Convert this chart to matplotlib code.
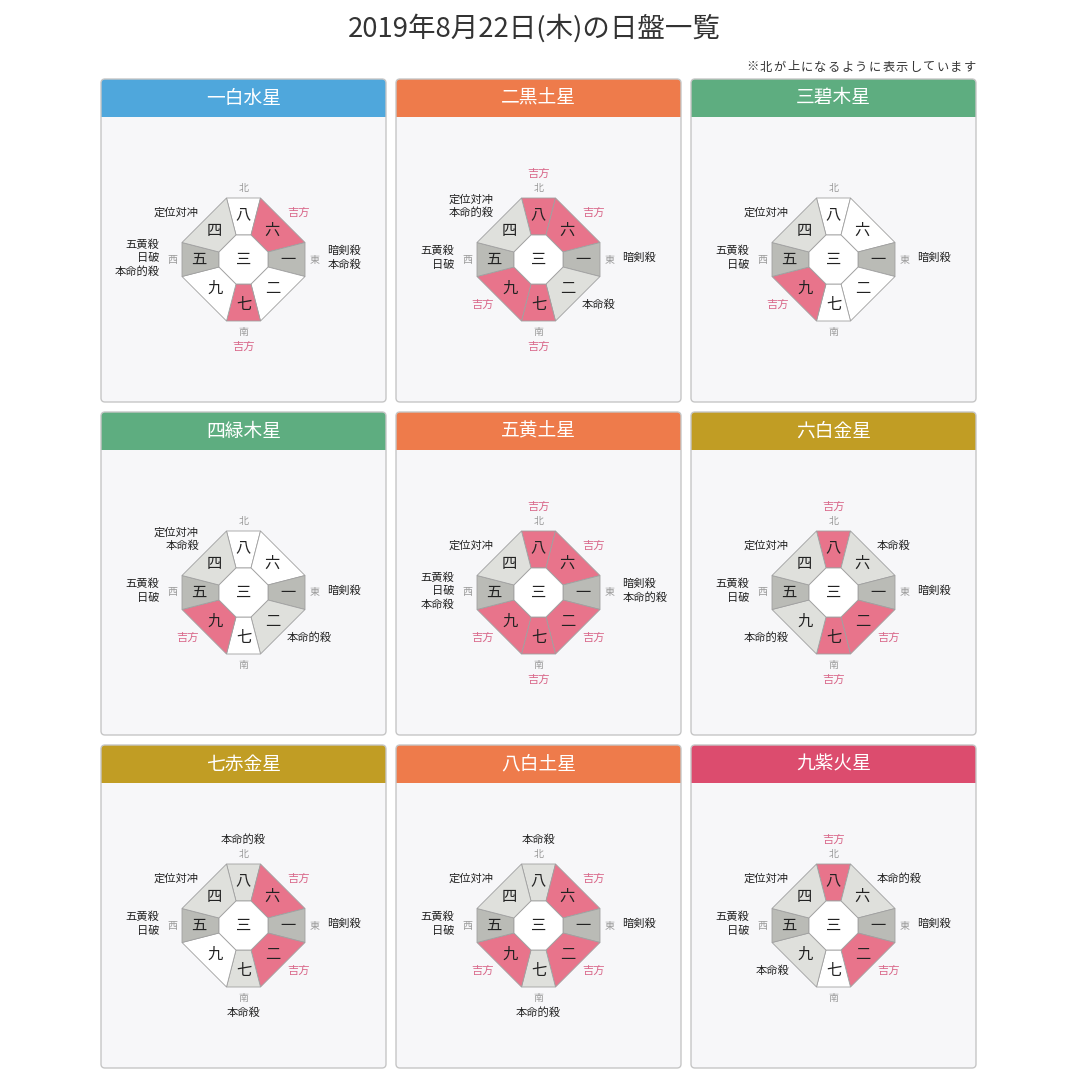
import matplotlib
matplotlib.use("Agg")
import matplotlib.pyplot as plt
from matplotlib.patches import FancyBboxPatch, Rectangle, Polygon

plt.rcParams['font.family'] = ['Noto Sans CJK JP', 'DejaVu Sans']

# ---------------- data ----------------
title = "2019年8月22日(木)の日盤一覧"
note = "※北が上になるように表示しています"
stars = ['一白水星', '二黒土星', '三碧木星', '四緑木星', '五黄土星',
         '六白金星', '七赤金星', '八白土星', '九紫火星']
header_colors = ['#4fa7dc', '#ee7b4b', '#5ead80', '#5ead80', '#ee7b4b',
                 '#c19d24', '#c19d24', '#ee7b4b', '#dc4c6e']
directions = ['N', 'NE', 'E', 'SE', 'S', 'SW', 'W', 'NW']
compass = {'N': '北', 'E': '東', 'S': '南', 'W': '西'}
board_numbers = ['八', '六', '一', '二', '七', '九', '五', '四']
center_number = '三'

# segment status per star, order N NE E SE S SW W NW
# k = 吉方, d = 凶(dark), l = 凶(light), w = normal
status = [
    'wkdwkwdl',
    'kkdlkkdl',
    'wwdwwkdl',
    'wwdlwkdl',
    'kkdkkkdl',
    'kldkkldl',
    'lkdklwdl',
    'lkdklkdl',
    'kldkwldl',
]

labels = [
    [[], ['吉方'], ['暗剣殺', '本命殺'], [], ['吉方'], [], ['五黄殺', '日破', '本命的殺'], ['定位対冲']],
    [['吉方'], ['吉方'], ['暗剣殺'], ['本命殺'], ['吉方'], ['吉方'], ['五黄殺', '日破'], ['定位対冲', '本命的殺']],
    [[], [], ['暗剣殺'], [], [], ['吉方'], ['五黄殺', '日破'], ['定位対冲']],
    [[], [], ['暗剣殺'], ['本命的殺'], [], ['吉方'], ['五黄殺', '日破'], ['定位対冲', '本命殺']],
    [['吉方'], ['吉方'], ['暗剣殺', '本命的殺'], ['吉方'], ['吉方'], ['吉方'], ['五黄殺', '日破', '本命殺'], ['定位対冲']],
    [['吉方'], ['本命殺'], ['暗剣殺'], ['吉方'], ['吉方'], ['本命的殺'], ['五黄殺', '日破'], ['定位対冲']],
    [['本命的殺'], ['吉方'], ['暗剣殺'], ['吉方'], ['本命殺'], [], ['五黄殺', '日破'], ['定位対冲']],
    [['本命殺'], ['吉方'], ['暗剣殺'], ['吉方'], ['本命的殺'], ['吉方'], ['五黄殺', '日破'], ['定位対冲']],
    [['吉方'], ['本命的殺'], ['暗剣殺'], ['吉方'], [], ['本命殺'], ['五黄殺', '日破'], ['定位対冲']],
]

# ---------------- styles ----------------
fill_colors = {'k': '#e8748b', 'd': '#babbb6', 'l': '#dfe0dc', 'w': '#ffffff'}
good_text = '#d9688a'
text_dark = '#222222'
compass_color = '#9a9a9a'
edge_color = '#a0a0a0'
panel_bg = '#f7f7f9'
panel_edge = '#c6c6c6'

W = H = 1080
fig = plt.figure(figsize=(10.8, 10.8), dpi=100)
ax = fig.add_axes([0, 0, 1, 1])
ax.set_xlim(0, W)
ax.set_ylim(H, 0)
ax.axis('off')

ax.text(534, 28, title, ha='center', va='center', fontsize=19.8, color='#333333')

# note text with letter spacing (each character placed individually)
note_step = 13.6
note_right = 976
for i, ch in enumerate(note):
    xc = note_right - (len(note) - 1 - i) * note_step - 6
    ax.text(xc, 67, ch, ha='center', va='center', fontsize=8.8, color='#333333')

col_x = [101, 396, 691]
row_y = [79, 412, 745]
pw, ph, hh = 285, 323, 38

# octagon geometry (pixels)
A, B = 61.5, 17.0
Ai, Bi = 24.5, 7.5


def octagon(a, b):
    return [(-b, -a), (b, -a), (a, -b), (a, b), (b, a), (-b, a), (-a, b), (-a, -b)]


outer = octagon(A, B)
inner = octagon(Ai, Bi)

lh = 13.6  # label line height


def draw_labels(cx, cy, d, lines):
    n = len(lines)
    for i, s in enumerate(lines):
        col = good_text if s == '吉方' else text_dark
        kw = dict(fontsize=8.1, color=col, va='center')
        if d == 'N':
            ax.text(cx, cy - 86 - (n - 1 - i) * lh, s, ha='center', **kw)
        elif d == 'S':
            ax.text(cx, cy + 87 + i * lh, s, ha='center', **kw)
        elif d == 'E':
            ax.text(cx + 84, cy - 1.5 + (i - (n - 1) / 2) * lh, s, ha='left', **kw)
        elif d == 'W':
            ax.text(cx - 84, cy - 1.5 + (i - (n - 1) / 2) * lh, s, ha='right', **kw)
        elif d == 'NE':
            ax.text(cx + 43.5, cy - 46.5 - (n - 1 - i) * lh, s, ha='left', **kw)
        elif d == 'NW':
            ax.text(cx - 44.5, cy - 46.5 - (n - 1 - i) * lh, s, ha='right', **kw)
        elif d == 'SE':
            ax.text(cx + 43.5, cy + 45.5 + i * lh, s, ha='left', **kw)
        elif d == 'SW':
            ax.text(cx - 44.5, cy + 45.5 + i * lh, s, ha='right', **kw)


for p, name in enumerate(stars):
    x0 = col_x[p % 3]
    y0 = row_y[p // 3]
    # panel body
    ax.add_patch(FancyBboxPatch((x0, y0), pw, ph, boxstyle='round,pad=0,rounding_size=4',
                                facecolor=panel_bg, edgecolor='none', zorder=1))
    # header
    ax.add_patch(FancyBboxPatch((x0, y0), pw, hh, boxstyle='round,pad=0,rounding_size=4',
                                facecolor=header_colors[p], edgecolor='none', zorder=2))
    ax.add_patch(Rectangle((x0, y0 + hh / 2), pw, hh / 2, facecolor=header_colors[p],
                           edgecolor='none', zorder=2))
    # border
    ax.add_patch(FancyBboxPatch((x0, y0), pw, ph, boxstyle='round,pad=0,rounding_size=4',
                                facecolor='none', edgecolor=panel_edge, linewidth=1.0, zorder=3))
    ax.text(x0 + pw / 2, y0 + hh / 2, name, ha='center', va='center', fontsize=13.5,
            color='white', zorder=4)

    cx = x0 + pw / 2
    cy = y0 + hh + (ph - hh) / 2
    for k, d in enumerate(directions):
        o1, o2 = outer[k], outer[(k + 1) % 8]
        i1, i2 = inner[k], inner[(k + 1) % 8]
        pts = [(cx + o1[0], cy + o1[1]), (cx + o2[0], cy + o2[1]),
               (cx + i2[0], cy + i2[1]), (cx + i1[0], cy + i1[1])]
        ax.add_patch(Polygon(pts, closed=True, facecolor=fill_colors[status[p][k]],
                             edgecolor=edge_color, linewidth=0.6, zorder=5))
        om = ((o1[0] + o2[0]) / 2, (o1[1] + o2[1]) / 2)
        im = ((i1[0] + i2[0]) / 2, (i1[1] + i2[1]) / 2)
        t = 0.55
        nx = im[0] + t * (om[0] - im[0])
        ny = im[1] + t * (om[1] - im[1])
        ax.text(cx + nx, cy + ny, board_numbers[k], ha='center', va='center',
                fontsize=11, color=text_dark, zorder=6)
        draw_labels(cx, cy, d, labels[p][k])
    ax.add_patch(Polygon([(cx + u, cy + v) for u, v in inner], closed=True,
                         facecolor='#ffffff', edgecolor=edge_color, linewidth=0.6, zorder=5))
    ax.text(cx, cy, center_number, ha='center', va='center', fontsize=11,
            color=text_dark, zorder=6)
    ax.text(cx, cy - 71.5, compass['N'], ha='center', va='center', fontsize=7.2, color=compass_color)
    ax.text(cx, cy + 72, compass['S'], ha='center', va='center', fontsize=7.2, color=compass_color)
    ax.text(cx + 71, cy, compass['E'], ha='center', va='center', fontsize=7.2, color=compass_color)
    ax.text(cx - 71.5, cy, compass['W'], ha='center', va='center', fontsize=7.2, color=compass_color)

fig.savefig('out.png', dpi=100, facecolor='white')
